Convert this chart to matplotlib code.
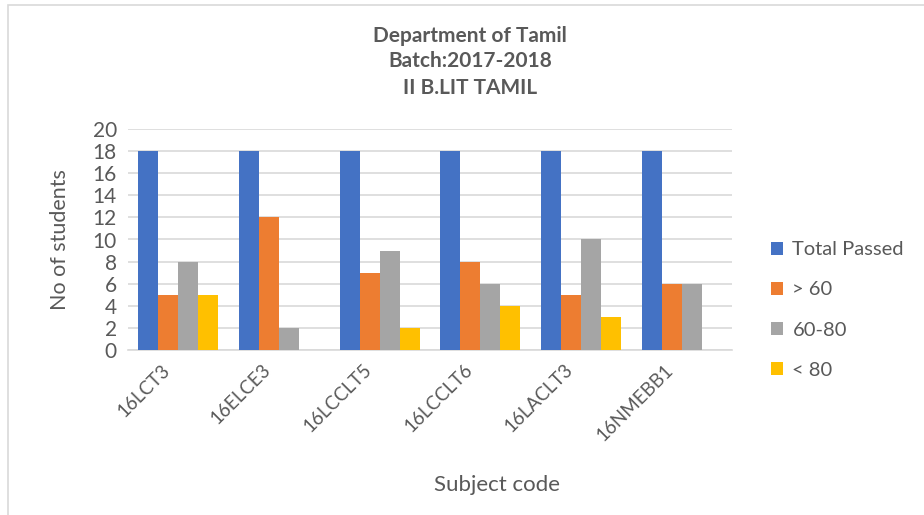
import matplotlib.pyplot as plt
import matplotlib.transforms as mtransforms
import numpy as np
from matplotlib.patches import Rectangle

plt.rcParams['font.family'] = ['Lato', 'DejaVu Sans']

subjects = ['16LCT3', '16ELCE3', '16LCCLT5', '16LCCLT6', '16LACLT3', '16NMEBB1']
total_passed = [18, 18, 18, 18, 18, 18]
above_60 = [5, 12, 7, 8, 5, 6]
from_60_80 = [8, 2, 9, 6, 10, 6]
below_80 = [5, 0, 2, 4, 3, 0]

series = [total_passed, above_60, from_60_80, below_80]
names = ['Total Passed', '> 60', '60-80', '< 80']
colors = ['#4472C4', '#ED7D31', '#A5A5A5', '#FFC000']
txt = '#595959'

fig = plt.figure(figsize=(9.24, 5.15), dpi=100)
fig.patches.append(Rectangle((8 / 924, -0.01), 1.0, 1 - 5 / 515 + 0.01, transform=fig.transFigure,
                             fill=False, edgecolor='#d9d9d9', linewidth=1.2))
ax = fig.add_axes([128 / 924, 1 - 350 / 515, 604 / 924, 221 / 515])

x = np.arange(len(subjects))
w = 0.198
for i, (vals, name, c) in enumerate(zip(series, names, colors)):
    ax.bar(x + (i - 1.5) * w, vals, width=w, color=c, label=name, zorder=3)

ax.set_xlim(-0.5, len(subjects) - 0.5)
ax.set_ylim(0, 20)
ax.set_yticks(range(0, 21, 2))
ax.grid(axis='y', color='#d9d9d9', linewidth=1.2, zorder=0)
for s in ['top', 'right', 'left']:
    ax.spines[s].set_visible(False)
ax.spines['bottom'].set_color('#d9d9d9')
ax.spines['bottom'].set_linewidth(1.2)
ax.tick_params(length=0, colors=txt)
ax.tick_params(axis='y', pad=8, labelsize=15)
ax.set_xticks(x)
ax.set_xticklabels(subjects, rotation=45, ha='right', rotation_mode='anchor', fontsize=13.5)
ax.tick_params(axis='x', pad=8)
shift = mtransforms.ScaledTranslation(-17 / 100, 0, fig.dpi_scale_trans)
for lab in ax.get_xticklabels():
    lab.set_transform(lab.get_transform() + shift)

ax.set_ylabel('No of students', color=txt, fontsize=15.5, labelpad=16)
ax.set_xlabel('Subject code', color=txt, fontsize=16)
ax.xaxis.set_label_coords((497 - 128) / 604, -(475 - 350) / 221)

fig.text(470 / 924, 1 - 36 / 515, 'Department of Tamil', ha='center', va='center',
         fontsize=15, fontweight='bold', color=txt)
fig.text(470 / 924, 1 - 61 / 515, 'Batch:2017-2018', ha='center', va='center',
         fontsize=15, fontweight='bold', color=txt)
fig.text(470 / 924, 1 - 88 / 515, 'II B.LIT TAMIL', ha='center', va='center',
         fontsize=15, fontweight='bold', color=txt)

leg = ax.legend(loc='center left', bbox_to_anchor=(1.035, (350 - 310) / 221), frameon=False,
                fontsize=14.5, handlelength=0.6, handleheight=0.6, labelspacing=1.15,
                handletextpad=0.45)
for t in leg.get_texts():
    t.set_color(txt)

fig.savefig('out.png', dpi=100)
